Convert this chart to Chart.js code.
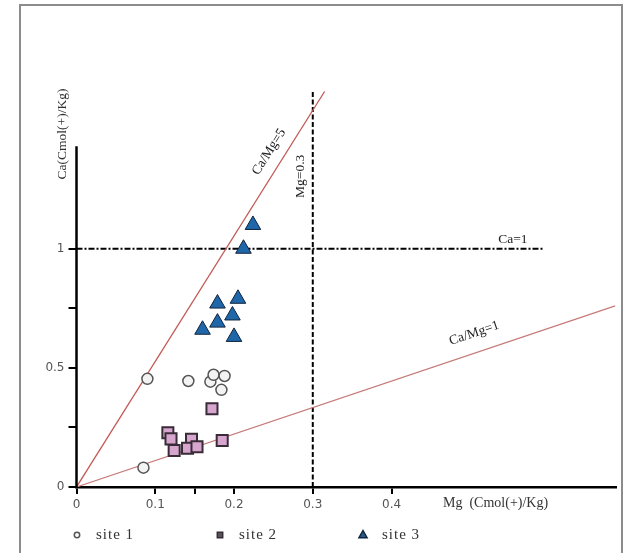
<!DOCTYPE html>
<html>
<head>
<meta charset="utf-8">
<script src="https://cdn.jsdelivr.net/npm/chart.js@4"></script>
<style>
  html, body { margin: 0; padding: 0; background: #fff; }
  canvas { display: block; }
</style>
</head>
<body>
<canvas id="chart" width="626" height="553"></canvas>
<script>
// measured values (Mg, Ca in Cmol(+)/Kg)
const site1Mg = [0.090, 0.142, 0.170, 0.174, 0.188, 0.184, 0.085]
const site1Ca = [0.454, 0.445, 0.442, 0.471, 0.466, 0.408, 0.081]
const site2Mg = [0.172, 0.116, 0.120, 0.124, 0.146, 0.141, 0.153, 0.185]
const site2Ca = [0.328, 0.228, 0.202, 0.153, 0.200, 0.163, 0.169, 0.195]
const site3Mg = [0.224, 0.212, 0.179, 0.205, 0.198, 0.179, 0.160, 0.200]
const site3Ca = [1.10, 1.00, 0.77, 0.79, 0.72, 0.69, 0.66, 0.63]

// reference lines as drawn in the figure
const ratio5Line = [[0, 0], [0.315, 1.66]]
const ratio1Line = [[0, 0], [0.684, 0.76]]
const mgLimitLine = [[0.3, 0], [0.3, 1.66]]
const caLimitLine = [[0, 1], [0.592, 1]]

const xTicks = [0, 0.1, 0.15, 0.2, 0.3, 0.4]
const xTickLabels = ['0', '0.1', '', '0.2', '0.3', '0.4']
const yTicks = [0, 0.25, 0.5, 0.75, 1]
const yTickLabels = ['0', '', '0.5', '', '1']
const yAxisTop = 1.43

const toPoints = (xs, ys) => xs.map((x, i) => ({ x: x, y: ys[i] }))
const linePoints = pts => pts.map(p => ({ x: p[0], y: p[1] }))

const serif = '"Liberation Serif", "DejaVu Serif", serif'

function drawMarker (ctx, style, x, y, r) {
  ctx.beginPath()
  if (style === 'circle') {
    ctx.arc(x, y, r, 0, Math.PI * 2)
  } else if (style === 'rect') {
    ctx.rect(x - r, y - r, 2 * r, 2 * r)
  } else {
    ctx.moveTo(x, y - r)
    ctx.lineTo(x + r * 0.9, y + r * 0.6)
    ctx.lineTo(x - r * 0.9, y + r * 0.6)
    ctx.closePath()
  }
  ctx.fill()
  ctx.stroke()
}

function rotatedText (ctx, text, x, y, angle, font) {
  ctx.save()
  ctx.translate(x, y)
  ctx.rotate(angle)
  ctx.font = font
  ctx.textAlign = 'center'
  ctx.textBaseline = 'middle'
  ctx.fillText(text, 0, 0)
  ctx.restore()
}

const annotate = {
  id: 'annotate',
  beforeDraw (chart) {
    const ctx = chart.ctx
    ctx.save()
    ctx.strokeStyle = '#8c8c8c'
    ctx.lineWidth = 2
    ctx.strokeRect(20, 5, 602, 570)
    ctx.restore()
  },
  afterDraw (chart) {
    const ctx = chart.ctx
    const x = chart.scales.x
    const y = chart.scales.y
    const px = v => x.getPixelForValue(v)
    const py = v => y.getPixelForValue(v)

    ctx.save()
    // y axis line stops below the top of the plot
    ctx.strokeStyle = '#000'
    ctx.lineWidth = 2.5
    ctx.beginPath()
    ctx.moveTo(px(0), py(0) + 1)
    ctx.lineTo(px(0), py(yAxisTop))
    ctx.stroke()

    ctx.fillStyle = '#222'
    const a5 = Math.atan2(py(ratio5Line[1][1]) - py(0), px(ratio5Line[1][0]) - px(0))
    rotatedText(ctx, 'Ca/Mg=5', px(0.247) - 2, py(1.407), a5, '13.5px ' + serif)
    const a1 = Math.atan2(py(ratio1Line[1][1]) - py(0), px(ratio1Line[1][0]) - px(0))
    rotatedText(ctx, 'Ca/Mg=1', px(0.505), py(0.645), a1, '13.5px ' + serif)
    rotatedText(ctx, 'Mg=0.3', px(0.3) - 12, py(1.304), -Math.PI / 2, '13.5px ' + serif)
    rotatedText(ctx, 'Ca=1', px(0.554), py(1) - 9, 0, '13.5px ' + serif)

    // axis titles
    ctx.fillStyle = '#333'
    rotatedText(ctx, 'Ca(Cmol(+)/Kg)', 62, 134, -Math.PI / 2, '13.5px ' + serif)
    ctx.font = '14px ' + serif
    ctx.textAlign = 'left'
    ctx.textBaseline = 'middle'
    ctx.fillText('Mg  (Cmol(+)/Kg)', 443, 503)

    // legend
    const legendItems = chart.data.datasets.filter(d => d.legendX !== undefined)
    legendItems.forEach(d => {
      ctx.fillStyle = d.legendFill
      ctx.strokeStyle = d.borderColor
      ctx.lineWidth = 1.5
      drawMarker(ctx, d.pointStyle, d.legendX, 535, d.pointStyle === 'triangle' ? 4.5 : 2.7)
      ctx.fillStyle = '#333'
      ctx.font = '15px ' + serif
      ctx.letterSpacing = '1px'
      ctx.textAlign = 'left'
      ctx.fillText(d.label, d.legendX + 19, 535)
      ctx.letterSpacing = '0px'
    })
    ctx.restore()
  }
}

const ctx = document.getElementById('chart').getContext('2d')

new Chart(ctx, {
  type: 'scatter',
  data: {
    datasets: [
      {
        label: 'site 1',
        data: toPoints(site1Mg, site1Ca),
        pointStyle: 'circle',
        pointRadius: 5.5,
        backgroundColor: '#f3f3f3',
        borderColor: '#555',
        borderWidth: 1.5,
        legendX: 77,
        legendFill: '#fff',
        order: 0
      },
      {
        label: 'site 2',
        data: toPoints(site2Mg, site2Ca),
        pointStyle: 'rect',
        pointRadius: 7.8,
        backgroundColor: '#d6a6cf',
        borderColor: '#3a2b38',
        borderWidth: 2,
        legendX: 220,
        legendFill: '#555',
        order: 0
      },
      {
        label: 'site 3',
        data: toPoints(site3Mg, site3Ca),
        pointStyle: 'triangle',
        pointRadius: 9,
        backgroundColor: '#1f67a8',
        borderColor: '#10243d',
        borderWidth: 1,
        legendX: 363,
        legendFill: '#2a5a8a',
        order: 0
      },
      {
        label: 'Ca/Mg=5',
        data: linePoints(ratio5Line),
        showLine: true,
        pointRadius: 0,
        borderColor: '#c25a55',
        borderWidth: 1.3,
        order: 1
      },
      {
        label: 'Ca/Mg=1',
        data: linePoints(ratio1Line),
        showLine: true,
        pointRadius: 0,
        borderColor: '#c67a78',
        borderWidth: 1.2,
        order: 1
      },
      {
        label: 'Mg=0.3',
        data: linePoints(mgLimitLine),
        showLine: true,
        pointRadius: 0,
        borderColor: '#000',
        borderWidth: 2,
        borderDash: [5, 2.5],
        order: 1
      },
      {
        label: 'Ca=1',
        data: linePoints(caLimitLine),
        showLine: true,
        pointRadius: 0,
        borderColor: '#000',
        borderWidth: 2.2,
        borderDash: [6, 2, 2, 2],
        order: 1
      }
    ]
  },
  options: {
    responsive: false,
    animation: false,
    layout: { padding: { top: 82, right: 8, left: 0, bottom: 0 } },
    plugins: {
      legend: { display: false },
      tooltip: { enabled: false }
    },
    scales: {
      x: {
        type: 'linear',
        min: 0,
        max: 0.685,
        afterBuildTicks: s => { s.ticks = xTicks.map(v => ({ value: v })) },
        afterFit: s => { s.height = 66 },
        ticks: {
          callback: (v, i) => xTickLabels[i],
          color: '#555',
          font: { family: '"DejaVu Sans", sans-serif', size: 12 },
          padding: 4,
          maxRotation: 0,
          autoSkip: false
        },
        grid: { drawOnChartArea: false, color: '#000', lineWidth: 2, tickLength: 7 },
        border: { color: '#000', width: 2.5 }
      },
      y: {
        type: 'linear',
        min: 0,
        max: 1.7,
        afterBuildTicks: s => { s.ticks = yTicks.map(v => ({ value: v })) },
        afterFit: s => { s.width = 76.5 },
        ticks: {
          callback: (v, i) => yTickLabels[i],
          color: '#555',
          font: { family: '"DejaVu Sans", sans-serif', size: 12 },
          padding: 4,
          autoSkip: false
        },
        grid: { drawOnChartArea: false, color: '#000', lineWidth: 2, tickLength: 8 },
        border: { display: false }
      }
    }
  },
  plugins: [annotate]
})
</script>
</body>
</html>
